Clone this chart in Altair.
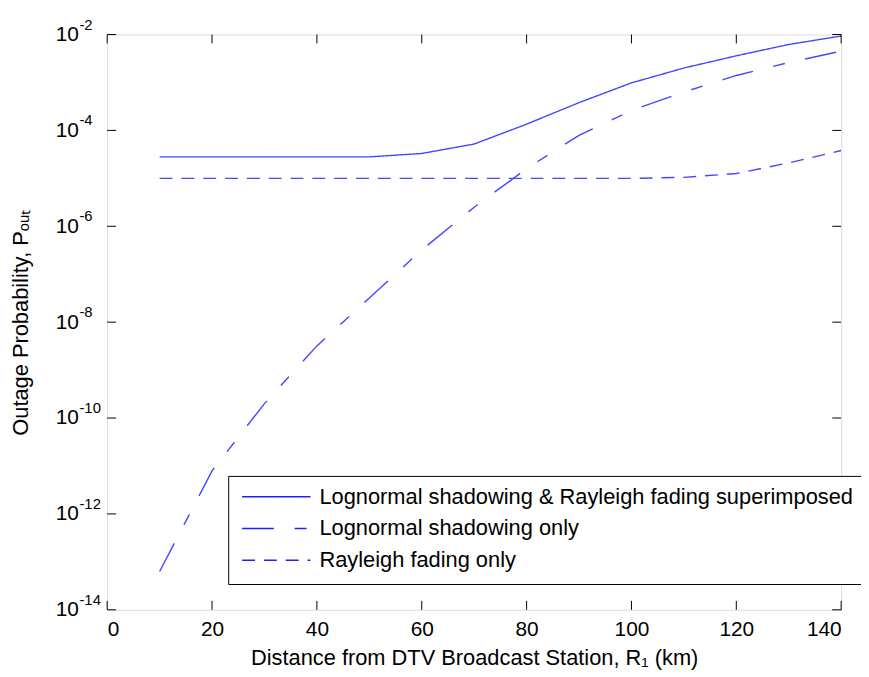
import altair as alt
import pandas as pd

# ---- data ----
distance_km = [10, 20, 30, 40, 50, 60, 70, 80, 90, 100, 110, 120, 130, 140]
p_combined = [2.8e-5, 2.8e-5, 2.8e-5, 2.8e-5, 2.8e-5, 3.3e-5, 5.2e-5, 1.35e-4,
              3.8e-4, 9.8e-4, 2.0e-3, 3.6e-3, 6.2e-3, 9.3e-3]
p_lognormal = [6.3e-14, 7.9e-12, 2.0e-10, 3.2e-9, 3.2e-8, 3.2e-7, 2.5e-6, 1.6e-5,
               7.9e-5, 2.6e-4, 6.3e-4, 1.4e-3, 2.6e-3, 4.5e-3]
p_rayleigh = [1.0e-5, 1.0e-5, 1.0e-5, 1.0e-5, 1.0e-5, 1.0e-5, 1.0e-5, 1.0e-5,
              1.0e-5, 1.0e-5, 1.05e-5, 1.26e-5, 2.1e-5, 3.8e-5]
series_names = ["Lognormal shadowing & Rayleigh fading superimposed",
                "Lognormal shadowing only",
                "Rayleigh fading only"]
x_ticks = [0, 20, 40, 60, 80, 100, 120, 140]
y_ticks = [1e-14, 1e-12, 1e-10, 1e-8, 1e-6, 1e-4, 1e-2]
y_tick_exponents = ["-14", "-12", "-10", "-8", "-6", "-4", "-2"]

rows = []
for name, vals in zip(series_names, [p_combined, p_lognormal, p_rayleigh]):
    for d, v in zip(distance_km, vals):
        rows.append({"distance": d, "p": v, "series": name})
df = pd.DataFrame(rows)

W, H = 740, 580
FONT = "Liberation Sans"
xscale = alt.Scale(domain=[0, 140], nice=False, zero=False)
yscale = alt.Scale(type="log", domain=[1e-14, 1e-2], nice=False)

lines = alt.Chart(df).mark_line(color="#4646ff", strokeWidth=1.4, clip=True).encode(
    x=alt.X("distance:Q", scale=xscale,
            axis=alt.Axis(values=x_ticks, title="Distance from DTV Broadcast Station, R₁ (km)",
                          ticks=False, domain=False, grid=False, labelPadding=9,
                          titlePadding=8, labelFontSize=21, titleFontSize=22,
                          labelFont=FONT, titleFont=FONT, labelColor="black",
                          titleColor="black", titleFontWeight="normal")),
    y=alt.Y("p:Q", scale=yscale,
            axis=alt.Axis(values=y_ticks, labelExpr="'10'", title="Outage Probability, Pₒᵤₜ",
                          ticks=False, domain=False, grid=False, labelPadding=29,
                          titlePadding=23, labelFontSize=21, titleFontSize=22,
                          labelFont=FONT, titleFont=FONT, labelColor="black",
                          titleColor="black", titleFontWeight="normal")),
    strokeDash=alt.StrokeDash(
        "series:N",
        scale=alt.Scale(domain=series_names, range=[[1, 0], [32, 21, 12, 21], [13, 9]]),
        legend=alt.Legend(orient="none", legendX=122, legendY=445, title=None,
                          symbolType="stroke", symbolSize=69 * 69, symbolStrokeWidth=1.5,
                          symbolStrokeColor="#1f1fff", labelFont=FONT, labelFontSize=22,
                          labelColor="black", labelOffset=8, padding=13, rowPadding=10,
                          clipHeight=16, labelLimit=700, strokeColor="black",
                          fillColor="white", cornerRadius=0)),
)

xt = pd.DataFrame({"v": x_ticks})
yt = pd.DataFrame({"v": y_ticks, "exp": y_tick_exponents})
tick_col = "black"
xb = alt.Chart(xt).mark_rule(color=tick_col, strokeWidth=1).encode(
    x=alt.X("v:Q", scale=xscale), y=alt.value(H), y2=alt.value(H - 9))
xtop = alt.Chart(xt).mark_rule(color=tick_col, strokeWidth=1).encode(
    x=alt.X("v:Q", scale=xscale), y=alt.value(0), y2=alt.value(9))
yl = alt.Chart(yt).mark_rule(color=tick_col, strokeWidth=1).encode(
    y=alt.Y("v:Q", scale=yscale), x=alt.value(0), x2=alt.value(9))
yr = alt.Chart(yt).mark_rule(color=tick_col, strokeWidth=1).encode(
    y=alt.Y("v:Q", scale=yscale), x=alt.value(W - 9), x2=alt.value(W))
# superscript exponents next to the "10" tick labels
yexp = alt.Chart(yt).mark_text(align="left", baseline="middle", dy=-10, dx=0,
                               fontSize=15, font=FONT, color="black").encode(
    y=alt.Y("v:Q", scale=yscale), x=alt.value(-28), text="exp:N")

chart = alt.layer(lines, xb, xtop, yl, yr, yexp).properties(
    width=W, height=H,
    autosize=alt.AutoSizeParams(type="none"),
    padding={"left": 100, "top": 24, "right": 20, "bottom": 64},
).configure_view(stroke="black", strokeWidth=1.2).configure(background="white")

chart.save("out.html", embed_options={"renderer": "svg", "actions": False})
